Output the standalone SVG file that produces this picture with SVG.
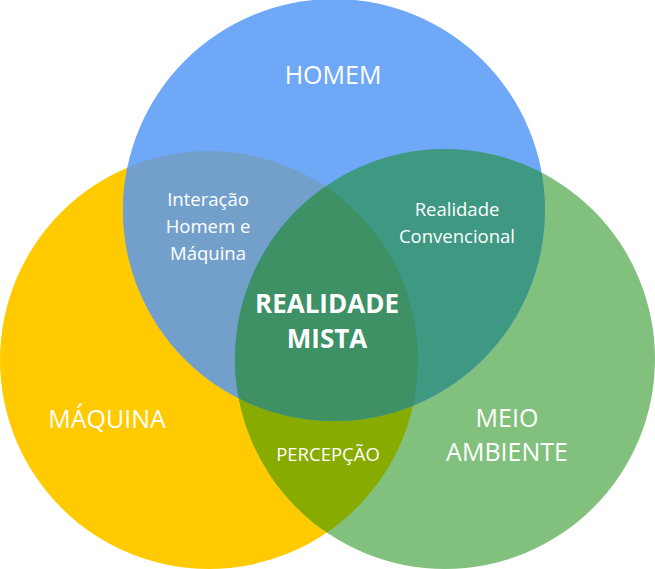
<svg xmlns="http://www.w3.org/2000/svg" width="655" height="569" viewBox="0 0 655 569">
<style>
text{font-family:"Open Sans","Noto Sans","Liberation Sans",sans-serif;fill:#ffffff;text-anchor:middle}
.big{font-size:25px}
.mid{font-size:18.5px}
.bold{font-size:26px;font-weight:bold}
</style>
<defs>
<circle id="cb" cx="334" cy="210" r="211"/>
<circle id="cy" cx="209" cy="360" r="209"/>
<circle id="cg" cx="445" cy="359" r="210"/>
<clipPath id="clipB"><use href="#cb"/></clipPath>
<clipPath id="clipY"><use href="#cy"/></clipPath>
<clipPath id="clipG"><use href="#cg"/></clipPath>
</defs>
<rect width="655" height="569" fill="#ffffff"/>
<g id="maquina">
<use href="#cy" fill="#FFCB00"/>
</g>
<g id="meio-ambiente">
<use href="#cg" fill="#82C07E"/>
</g>
<g id="homem">
<use href="#cb" fill="#6FA8F7"/>
</g>
<g id="percepcao">
<g clip-path="url(#clipY)"><use href="#cg" fill="#88AB00"/></g>
</g>
<g id="interacao">
<g clip-path="url(#clipY)"><use href="#cb" fill="#73A0CB"/></g>
</g>
<g id="realidade-convencional">
<g clip-path="url(#clipG)"><use href="#cb" fill="#3E9882"/></g>
</g>
<g id="realidade-mista">
<g clip-path="url(#clipY)"><g clip-path="url(#clipG)"><use href="#cb" fill="#3D9165"/></g></g>
</g>
<g id="connectors"/>
<g id="labels">
<text class="big" x="333" y="84">HOMEM</text>
<text class="big" x="107" y="428">MÁQUINA</text>
<text class="big" x="507" y="427">MEIO</text>
<text class="big" x="507" y="461">AMBIENTE</text>
<text class="mid" x="328" y="461">PERCEPÇÃO</text>
<text class="mid" x="208" y="206">Interação</text>
<text class="mid" x="208" y="233">Homem e</text>
<text class="mid" x="208" y="260">Máquina</text>
<text class="mid" x="457" y="216">Realidade</text>
<text class="mid" x="457" y="243">Convencional</text>
<text class="bold" x="327" y="313">REALIDADE</text>
<text class="bold" x="327" y="348">MISTA</text>
</g>
</svg>
